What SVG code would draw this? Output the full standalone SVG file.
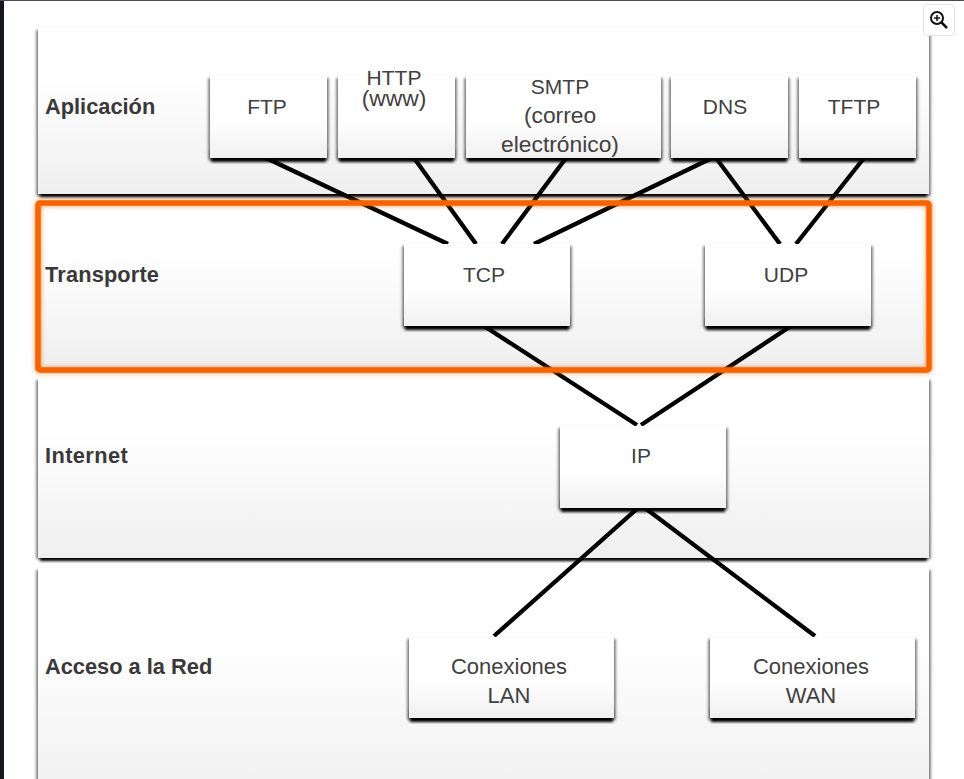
<svg xmlns="http://www.w3.org/2000/svg" width="964" height="779" viewBox="0 0 964 779">
<style>
.bold{font:700 21.8px "Liberation Sans",Arial,sans-serif;fill:#3a3838}
.t{font:400 22px "Liberation Sans",Arial,sans-serif;fill:#424040;text-anchor:middle}
.c{font-size:21px}
.w{font-size:22.8px}
.band{fill:url(#bandG)}
.box{fill:url(#boxG)}
.sh{fill:#000;filter:url(#blur)}
.shs{fill:#000;opacity:.6;filter:url(#blur)}
#connectors line{stroke:#000;stroke-width:4.300}
</style>
<defs>
<linearGradient id="bandG" x1="0" y1="0" x2="0" y2="1"><stop offset="0.3" stop-color="#fff"/><stop offset="1" stop-color="#efefef"/></linearGradient>
<linearGradient id="boxG" x1="0" y1="0" x2="0" y2="1"><stop offset="0.55" stop-color="#fff"/><stop offset="1" stop-color="#f0f0f0"/></linearGradient>
<filter id="blur" x="-10%" y="-10%" width="120%" height="120%"><feGaussianBlur stdDeviation="1.400"/></filter>
<filter id="glow" x="-5%" y="-10%" width="110%" height="120%"><feGaussianBlur stdDeviation="2"/></filter>
</defs>
<rect width="964" height="779" fill="#fff"/>
<rect width="4" height="779" fill="#14171c"/>
<rect width="964" height="1" fill="#464b57"/>

<g id="band-aplicacion"><rect class="shs" x="36.500" y="30" width="894" height="166"/><rect class="sh" x="40" y="186" width="887" height="11"/><rect class="band" x="38" y="28" width="891" height="166"/><text class="bold" x="45" y="114">Aplicación</text></g>
<g id="band-transporte"><rect class="band" x="38" y="202" width="891" height="168"/><text class="bold" x="45" y="282" letter-spacing=".15">Transporte</text></g>
<g id="band-internet"><rect class="shs" x="36.500" y="380" width="894" height="179"/><rect class="sh" x="40" y="550" width="887" height="11"/><rect class="band" x="38" y="378" width="891" height="180"/><text class="bold" x="45" y="463" letter-spacing=".4">Internet</text></g>
<g id="band-acceso"><rect class="shs" x="36.500" y="570" width="894" height="220"/><rect class="band" x="38" y="568" width="891" height="240"/><text class="bold" x="45" y="674">Acceso a la Red</text></g>

<g id="connectors">
<line x1="266" y1="158" x2="448" y2="244"/>
<line x1="414" y1="158" x2="476" y2="244"/>
<line x1="566" y1="158" x2="502" y2="244"/>
<line x1="712" y1="158" x2="534" y2="244"/>
<line x1="716" y1="158" x2="780" y2="244"/>
<line x1="864" y1="158" x2="796" y2="244"/>
<line x1="484" y1="326" x2="637" y2="425"/>
<line x1="791" y1="326" x2="641" y2="425"/>
<line x1="638" y1="508" x2="494" y2="636"/>
<line x1="645" y1="508" x2="815" y2="636"/>
</g>

<g id="highlight" fill="none"><rect x="38" y="203" width="891" height="167" rx="2" stroke="#f56400" stroke-width="7" opacity=".55" filter="url(#glow)"/><rect x="38" y="203" width="891" height="167" rx="2" stroke="#f56400" stroke-width="5.500"/></g>

<g id="node-ftp"><rect class="shs" x="208.500" y="78" width="120" height="82"/><rect class="sh" x="211" y="150" width="115" height="12"/><rect class="box" x="210" y="76" width="117" height="82"/><text class="t c" x="267" y="114">FTP</text></g>
<g id="node-http"><rect class="shs" x="336.500" y="78" width="120" height="82"/><rect class="sh" x="339" y="150" width="115" height="12"/><rect class="box" x="338" y="76" width="117" height="82"/><text class="t c" x="394" y="85">HTTP</text><text class="t w" x="394" y="106">(www)</text></g>
<g id="node-smtp"><rect class="shs" x="464.500" y="78" width="198" height="82"/><rect class="sh" x="467" y="150" width="193" height="12"/><rect class="box" x="466" y="76" width="195" height="82"/><text class="t c" x="560" y="94">SMTP</text><text class="t w" x="560" y="123">(correo</text><text class="t w" x="560" y="152">electrónico)</text></g>
<g id="node-dns"><rect class="shs" x="669.500" y="78" width="120" height="82"/><rect class="sh" x="672" y="150" width="115" height="12"/><rect class="box" x="671" y="76" width="117" height="82"/><text class="t c" x="725" y="114">DNS</text></g>
<g id="node-tftp"><rect class="shs" x="797.500" y="78" width="120" height="82"/><rect class="sh" x="800" y="150" width="115" height="12"/><rect class="box" x="799" y="76" width="117" height="82"/><text class="t c" x="854" y="114">TFTP</text></g>
<g id="node-tcp"><rect class="shs" x="402.500" y="246" width="169" height="82"/><rect class="sh" x="405" y="318" width="164" height="12"/><rect class="box" x="404" y="244" width="166" height="82"/><text class="t c" x="484" y="282">TCP</text></g>
<g id="node-udp"><rect class="shs" x="703.500" y="246" width="169" height="82"/><rect class="sh" x="706" y="318" width="164" height="12"/><rect class="box" x="705" y="244" width="166" height="82"/><text class="t c" x="786" y="282">UDP</text></g>
<g id="node-ip"><rect class="shs" x="558.500" y="428" width="169" height="82"/><rect class="sh" x="561" y="500" width="164" height="12"/><rect class="box" x="560" y="426" width="166" height="82"/><text class="t c" x="641" y="463">IP</text></g>
<g id="node-lan"><rect class="shs" x="407.500" y="639" width="208" height="81"/><rect class="sh" x="410" y="710" width="203" height="12"/><rect class="box" x="409" y="637" width="205" height="81"/><text class="t" x="509" y="674">Conexiones</text><text class="t" x="509" y="703">LAN</text></g>
<g id="node-wan"><rect class="shs" x="708.500" y="639" width="208" height="81"/><rect class="sh" x="711" y="710" width="203" height="12"/><rect class="box" x="710" y="637" width="205" height="81"/><text class="t" x="811" y="674">Conexiones</text><text class="t" x="811" y="703">WAN</text></g>

<g id="zoom-button"><rect x="923.500" y="4.500" width="31" height="31" rx="3" fill="#fff" stroke="#e3e3e3"/><circle cx="937" cy="18" r="6" fill="none" stroke="#111" stroke-width="2"/><path d="M941.500 22.500L947 28" stroke="#111" stroke-width="2.500" fill="none"/><path d="M934 18h6M937 15v6" stroke="#111" stroke-width="1.500" fill="none"/></g>
</svg>
